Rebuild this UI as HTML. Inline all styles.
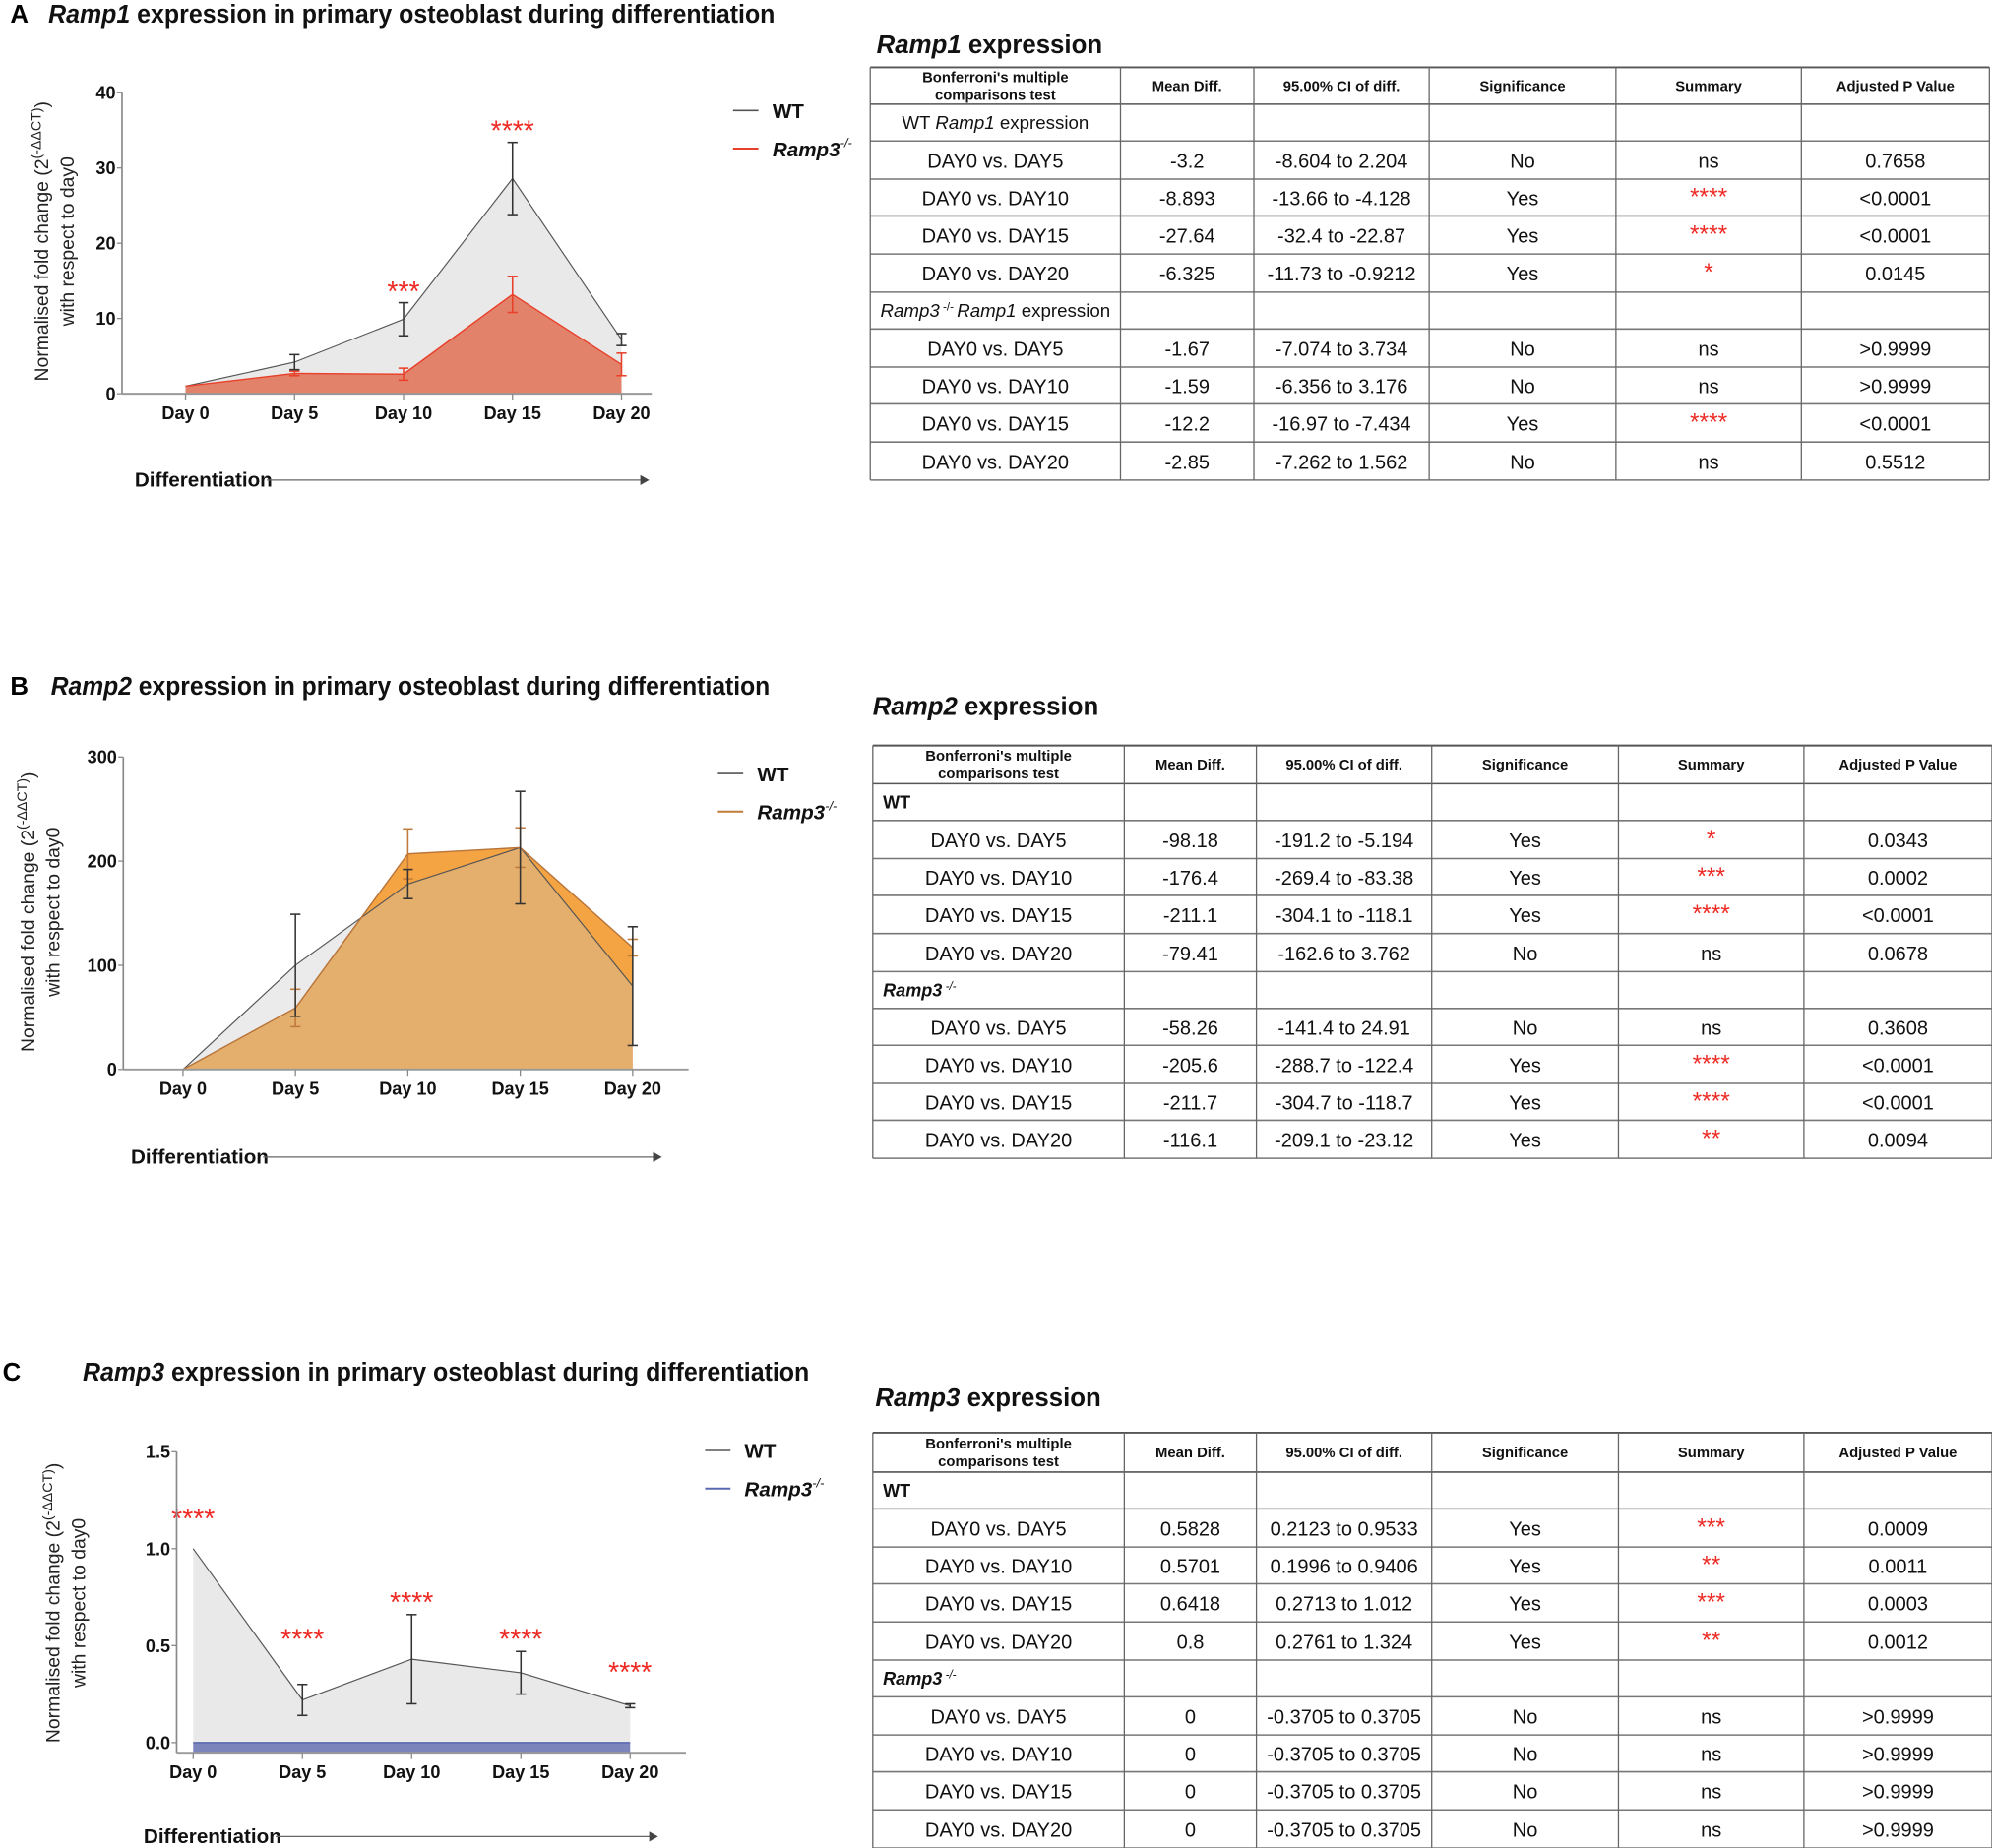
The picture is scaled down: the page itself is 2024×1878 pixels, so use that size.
<!DOCTYPE html>
<html><head><meta charset="utf-8">
<style>
html,body{margin:0;padding:0;background:#fff;}
svg{display:block;font-family:"Liberation Sans Narrow","Liberation Sans",sans-serif;}
</style></head>
<body>
<svg id="fig" width="2024" height="1878" viewBox="0 0 1568 1455" xmlns="http://www.w3.org/2000/svg"></svg>
<script>
// ---------- chart data ----------
const days = ['Day 0','Day 5','Day 10','Day 15','Day 20'];
// Panel A: Ramp1
const ticksA = [0,10,20,30,40];
const tickLabelsA = ['0','10','20','30','40'];
const wtA = [1, 4.2, 9.9, 28.6, 7.2];
const wtErrA = [0, 1.0, 2.2, 4.8, 0.8];
const koA = [1, 2.7, 2.6, 13.2, 3.9];
const koErrA = [0, 0.3, 0.8, 2.4, 1.5];
const starsA = ['', '', '***', '****', ''];
const starValsA = [0, 0, 14, 35.4, 0];
// Panel B: Ramp2
const ticksB = [0,100,200,300];
const tickLabelsB = ['0','100','200','300'];
const wtB = [0, 100, 178, 213, 80];
const wtErrB = [0, 49, 14, 54, 57];
const koB = [0, 59, 207, 213, 117];
const koErrB = [0, 18, 24, 19, 8];
const starsB = ['', '', '', '', ''];
const starValsB = [0, 0, 0, 0, 0];
// Panel C: Ramp3
const ticksC = [0,0.5,1.0,1.5];
const tickLabelsC = ['0.0','0.5','1.0','1.5'];
const wtC = [1.0, 0.22, 0.43, 0.36, 0.19];
const wtErrC = [0, 0.08, 0.23, 0.11, 0.01];
const koC = [0, 0, 0, 0, 0];
const koErrC = [0, 0, 0, 0, 0];
const starsC = ['****','****','****','****','****'];
const starValsC = [1.17, 0.55, 0.74, 0.55, 0.38];

// ---------- table data ----------
const tableHead = ["Bonferroni's multiple|comparisons test","Mean Diff.","95.00% CI of diff.","Significance","Summary","Adjusted P Value"];
const rowsA = [
 ['DAY0 vs. DAY5','-3.2','-8.604 to 2.204','No','ns','0.7658'],
 ['DAY0 vs. DAY10','-8.893','-13.66 to -4.128','Yes','****','<0.0001'],
 ['DAY0 vs. DAY15','-27.64','-32.4 to -22.87','Yes','****','<0.0001'],
 ['DAY0 vs. DAY20','-6.325','-11.73 to -0.9212','Yes','*','0.0145'],
 ['DAY0 vs. DAY5','-1.67','-7.074 to 3.734','No','ns','>0.9999'],
 ['DAY0 vs. DAY10','-1.59','-6.356 to 3.176','No','ns','>0.9999'],
 ['DAY0 vs. DAY15','-12.2','-16.97 to -7.434','Yes','****','<0.0001'],
 ['DAY0 vs. DAY20','-2.85','-7.262 to 1.562','No','ns','0.5512']];
const rowsB = [
 ['DAY0 vs. DAY5','-98.18','-191.2 to -5.194','Yes','*','0.0343'],
 ['DAY0 vs. DAY10','-176.4','-269.4 to -83.38','Yes','***','0.0002'],
 ['DAY0 vs. DAY15','-211.1','-304.1 to -118.1','Yes','****','<0.0001'],
 ['DAY0 vs. DAY20','-79.41','-162.6 to 3.762','No','ns','0.0678'],
 ['DAY0 vs. DAY5','-58.26','-141.4 to 24.91','No','ns','0.3608'],
 ['DAY0 vs. DAY10','-205.6','-288.7 to -122.4','Yes','****','<0.0001'],
 ['DAY0 vs. DAY15','-211.7','-304.7 to -118.7','Yes','****','<0.0001'],
 ['DAY0 vs. DAY20','-116.1','-209.1 to -23.12','Yes','**','0.0094']];
const rowsC = [
 ['DAY0 vs. DAY5','0.5828','0.2123 to 0.9533','Yes','***','0.0009'],
 ['DAY0 vs. DAY10','0.5701','0.1996 to 0.9406','Yes','**','0.0011'],
 ['DAY0 vs. DAY15','0.6418','0.2713 to 1.012','Yes','***','0.0003'],
 ['DAY0 vs. DAY20','0.8','0.2761 to 1.324','Yes','**','0.0012'],
 ['DAY0 vs. DAY5','0','-0.3705 to 0.3705','No','ns','>0.9999'],
 ['DAY0 vs. DAY10','0','-0.3705 to 0.3705','No','ns','>0.9999'],
 ['DAY0 vs. DAY15','0','-0.3705 to 0.3705','No','ns','>0.9999'],
 ['DAY0 vs. DAY20','0','-0.3705 to 0.3705','No','ns','>0.9999']];

const NS='http://www.w3.org/2000/svg';
const svg=document.getElementById('fig');
function el(tag, attrs, parent, txt){
  const e=document.createElementNS(NS,tag);
  for(const k in attrs) e.setAttribute(k,attrs[k]);
  if(txt!==undefined) e.textContent=txt;
  (parent||svg).appendChild(e); return e;
}

function panel(c){
  const g=el('g',{});  
  const L=el('text',{x:c.letterX,y:c.titleY,'font-size':20,'font-weight':'bold',fill:'#000'},g,c.letter);
   
  const t=el('text',{x:c.titleX,y:c.titleY,'font-size':20,'font-weight':'bold',fill:'#111',textLength:c.titleLen,lengthAdjust:'spacingAndGlyphs'},g);
   
  el('tspan',{'font-style':'italic'},t,c.gene); el('tspan',{},t,' expression in primary osteoblast during differentiation');

  const xs=i=>c.xFirst+i*c.xStep;
  const ys=v=>c.yZero-(v/c.yMax)*(c.yZero-c.yTop);
  const pts=(arr)=>arr.map((v,i)=>xs(i)+','+ys(v)).join(' ');
  const area=(arr)=>xs(0)+','+ys(0)+' '+pts(arr)+' '+xs(arr.length-1)+','+ys(0);

  if(c.mode==='A'){
    const a=el('polygon',{points:area(c.wt),fill:'#e9e9e9'},g);  
    const b=el('polygon',{points:area(c.ko),fill:'#e2826a'},g);  
  } else if(c.mode==='B'){
    const b=el('polygon',{points:area(c.ko),fill:'#f5a443'},g);  
    const a=el('polygon',{points:area(c.wt),fill:'rgba(194,194,194,0.33)'},g);  
  } else {
    const a=el('polygon',{points:area(c.wt),fill:'#e9e9e9'},g);  
    const b=el('rect',{x:xs(0),y:ys(0),width:xs(4)-xs(0),height:c.axisY-ys(0),fill:'#7b84bb'},g);  
  }
  const lw=el('polyline',{points:pts(c.wt),fill:'none',stroke:'#555',"stroke-width":0.9},g);  
  const lk=el('polyline',{points:pts(c.ko),fill:'none',stroke:c.koLine,"stroke-width":1.1},g);  
  function err(vals,errs,col,nm){
    vals.forEach((v,i)=>{ if(!errs[i]) return;
      const x=xs(i), y1=ys(v+errs[i]), y2=ys(v-errs[i]);
      const eg=el('g',{stroke:col,'stroke-width':1.2},g);  
      el('line',{x1:x,x2:x,y1:y1,y2:y2},eg); el('line',{x1:x-4,x2:x+4,y1:y1,y2:y1},eg); el('line',{x1:x-4,x2:x+4,y1:y2,y2:y2},eg);
    });
  }
  err(c.ko,c.koErr,c.koErrCol,'ramp3');
  err(c.wt,c.wtErr,'#333','wt');
  c.stars.forEach((s,i)=>{ if(!s) return;
    const st=el('text',{x:xs(i),y:ys(c.starVals[i])+10,'text-anchor':'middle','font-size':22,fill:'#ee2a24'},g,s);
     
  });
  const ya=el('line',{x1:c.axisX,x2:c.axisX,y1:c.yTop,y2:c.axisY,stroke:'#888','stroke-width':1.3},g);  
  const xa=el('line',{x1:c.axisX,x2:c.xEnd,y1:c.axisY,y2:c.axisY,stroke:'#999','stroke-width':1.5},g);  
  c.ticks.forEach((v,i)=>{
    el('line',{x1:c.axisX-4,x2:c.axisX,y1:ys(v),y2:ys(v),stroke:'#888'},g);
    const tl=el('text',{x:c.axisX-5,y:ys(v)+5,'text-anchor':'end','font-size':14,'font-weight':'bold',fill:'#111'},g,c.tickLabels[i]);
     
  });
  days.forEach((d,i)=>{
    el('line',{x1:xs(i),x2:xs(i),y1:c.axisY,y2:c.axisY+5,stroke:'#888'},g);
    const tl=el('text',{x:xs(i),y:c.axisY+20,'text-anchor':'middle','font-size':14,'font-weight':'bold',fill:'#111'},g,d);
     
  });
  const yt=el('text',{transform:`translate(${c.yTitleX},${c.yTitleY}) rotate(-90)`,'text-anchor':'middle','font-size':15,fill:'#222','font-family':'Liberation Sans, sans-serif'},g);
   
  el('tspan',{x:0,y:0},yt,'Normalised fold change (2');
  el('tspan',{dy:-6,'font-size':11},yt,'(-ΔΔCT)');
  el('tspan',{dy:6},yt,')');
  el('tspan',{x:0,y:20},yt,'with respect to day0');
  const lg=el('g',{},g);  
  el('line',{x1:c.legX,x2:c.legX+20,y1:c.legY,y2:c.legY,stroke:'#555','stroke-width':1.2},lg);
  el('text',{x:c.legX+31,y:c.legY+6,'font-size':16,'font-weight':'bold',fill:'#111'},lg,'WT');
  el('line',{x1:c.legX,x2:c.legX+20,y1:c.legY+30,y2:c.legY+30,stroke:c.legCol,'stroke-width':1.5},lg);
  const lt=el('text',{x:c.legX+31,y:c.legY+36,'font-size':16,'font-weight':'bold','font-style':'italic',fill:'#111'},lg,'Ramp3');
  el('tspan',{dy:-7,'font-size':10,'font-weight':'normal'},lt,'-/-');
  const dg=el('g',{},g);  
  el('text',{x:c.diffX,y:c.diffY+5,'font-size':16,'font-weight':'bold',fill:'#111'},dg,'Differentiation');
  el('line',{x1:c.diffX+104,x2:c.arrowEnd-6,y1:c.diffY,y2:c.diffY,stroke:'#666','stroke-width':1},dg);
  el('polygon',{points:`${c.arrowEnd},${c.diffY} ${c.arrowEnd-7},${c.diffY-4} ${c.arrowEnd-7},${c.diffY+4}`,fill:'#444'},dg);
}

panel({name:'panel-a-chart',letter:'A',letterX:8,titleX:38,titleY:18,titleLen:572,gene:'Ramp1',mode:'A',
  wt:wtA,wtErr:wtErrA,ko:koA,koErr:koErrA,koLine:'#e8402a',koErrCol:'#e8402a',stars:starsA,starVals:starValsA,
  ticks:ticksA,tickLabels:tickLabelsA,yMax:40,yZero:310,yTop:73,axisY:310,axisX:96,xEnd:513,xFirst:146,xStep:85.8,
  yTitleX:38,yTitleY:190,legX:577,legY:87,legCol:'#e8402a',diffX:106,diffY:378,arrowEnd:511});
panel({name:'panel-b-chart',letter:'B',letterX:8,titleX:40,titleY:547,titleLen:566,gene:'Ramp2',mode:'B',
  wt:wtB,wtErr:wtErrB,ko:koB,koErr:koErrB,koLine:'#b8743a',koErrCol:'#c07a3a',stars:starsB,starVals:starValsB,
  ticks:ticksB,tickLabels:tickLabelsB,yMax:300,yZero:842,yTop:596,axisY:842,axisX:97,xEnd:542,xFirst:144,xStep:88.5,
  yTitleX:27,yTitleY:718,legX:565,legY:609,legCol:'#c07a3a',diffX:103,diffY:911,arrowEnd:521});
panel({name:'panel-c-chart',letter:'C',letterX:2,titleX:65,titleY:1087,titleLen:572,gene:'Ramp3',mode:'C',
  wt:wtC,wtErr:wtErrC,ko:koC,koErr:koErrC,koLine:'#5a68b0',koErrCol:'#5a68b0',stars:starsC,starVals:starValsC,
  ticks:ticksC,tickLabels:tickLabelsC,yMax:1.5,yZero:1372,yTop:1143,axisY:1380,axisX:139,xEnd:540,xFirst:152,xStep:86,
  yTitleX:47,yTitleY:1262,legX:555,legY:1142,legCol:'#5a68b0',diffX:113,diffY:1446,arrowEnd:518});

function table(c){
  const g=el('g',{});  
  const t=el('text',{x:c.titleX,y:c.titleY,'font-size':20,'font-weight':'bold',fill:'#111'},g);
   
  el('tspan',{'font-style':'italic'},t,c.gene); el('tspan',{},t,' expression');
  const cols=c.cols, rl=c.rowLines, L=cols[0], R=cols[cols.length-1];
  rl.forEach((y,i)=>{ el('line',{x1:L,x2:R,y1:y,y2:y,stroke:(i===0||i===1)?'#555':'#777','stroke-width':(i===0)?1.5:1.2},g); });
  const bottom=rl[rl.length-1];
  cols.forEach(x=>{ el('line',{x1:x,x2:x,y1:rl[0],y2:bottom,stroke:'#666','stroke-width':1},g); });
  const mid=i=>(cols[i]+cols[i+1])/2;
  tableHead.forEach((h,i)=>{
    const parts=h.split('|');
    const cy=(rl[0]+rl[1])/2;
    parts.forEach((p,k)=>{
      const tx=el('text',{x:mid(i),y:cy+4+(parts.length>1?(k?7:-7):0),'text-anchor':'middle','font-size':11.5,'font-weight':'bold',fill:'#111'},g,p);
       
    });
  });
  let r=1;
  function section(labelFn){
    const y=(rl[r]+rl[r+1])/2+5; labelFn(y); r++;
  }
  function dataRow(row){
    const y=(rl[r]+rl[r+1])/2+6;
    row.forEach((v,i)=>{
      const isStar=v.indexOf('*')===0;
      const tx=el('text',{x:mid(i),y:isStar?y:y,'text-anchor':'middle','font-size':isStar?19:15.5,fill:isStar?'#ee2a24':'#111'},g,v);
       
    });
    r++;
  }
  section(c.sec1); c.rows.slice(0,4).forEach(dataRow);
  section(c.sec2); c.rows.slice(4).forEach(dataRow);
}
function secWT_A(y){const t=el('text',{x:(685+882)/2,y:y,'text-anchor':'middle','font-size':14.5,fill:'#111'});el('tspan',{},t,'WT ');el('tspan',{'font-style':'italic'},t,'Ramp1');el('tspan',{},t,' expression');}
function secKO_A(y){const t=el('text',{x:(685+882)/2,y:y,'text-anchor':'middle','font-size':14.5,fill:'#111'});el('tspan',{'font-style':'italic'},t,'Ramp3');el('tspan',{'font-size':9,dy:-5},t,' -/- ');el('tspan',{'font-style':'italic',dy:5},t,'Ramp1');el('tspan',{},t,' expression');}
function secWT(y){const t=el('text',{x:695,y:y,'font-size':14,'font-weight':'bold',fill:'#111'},undefined,'WT');}
function secKO(y){const t=el('text',{x:695,y:y,'font-size':14,'font-weight':'bold','font-style':'italic',fill:'#111'});el('tspan',{},t,'Ramp3');el('tspan',{'font-size':9,dy:-5,'font-weight':'normal'},t,' -/-');}

table({name:'ramp1-table',gene:'Ramp1',titleX:690,titleY:42,cols:[685,882,987,1125,1272,1418,1566],
  rowLines:[53,82,111,141,170,200,230,259,289,318,348,378],rows:rowsA,sec1:secWT_A,sec2:secKO_A});
table({name:'ramp2-table',gene:'Ramp2',titleX:687,titleY:563,cols:[687,885,989,1127,1274,1420,1568],
  rowLines:[587,617,646,676,705,735,765,794,823,853,882,912],rows:rowsB,sec1:secWT,sec2:secKO});
table({name:'ramp3-table',gene:'Ramp3',titleX:689,titleY:1107,cols:[687,885,989,1127,1274,1420,1568],
  rowLines:[1128,1159,1188,1218,1247,1277,1307,1336,1366,1395,1425,1455],rows:rowsC,sec1:secWT,sec2:secKO});
</script>
</body></html>
